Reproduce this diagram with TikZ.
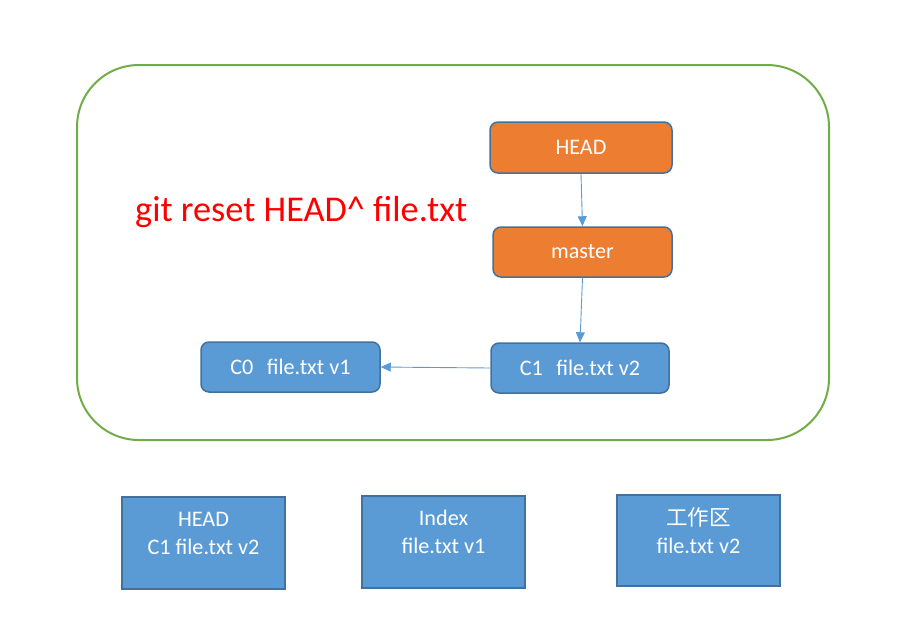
\documentclass[tikz,border=0pt]{standalone}
\usepackage{fontspec}
\setmainfont{Carlito}
\newfontfamily\cjk{Noto Sans CJK SC}
\usetikzlibrary{arrows.meta}
\definecolor{bborder}{HTML}{41719C}
\definecolor{bfill}{HTML}{5B9BD5}
\definecolor{ofill}{HTML}{ED7D31}
\definecolor{gline}{HTML}{70AD47}
\definecolor{aline}{HTML}{5B9BD5}
\begin{document}
\begin{tikzpicture}[x=1pt,y=-1pt,
  smallfont/.style={font=\fontsize{22.2}{28}\selectfont},
  rbox/.style={draw=bborder, line width=1.5pt, rounded corners=8pt, inner sep=0pt, text=white, smallfont},
  bluebox/.style={rbox, fill=bfill},
  orangebox/.style={rbox, fill=ofill},
  sqbox/.style={draw=bborder, line width=1.5pt, fill=bfill, inner sep=0pt, minimum width=163pt},
  boxtext/.style={text=white, smallfont, align=center, inner sep=0pt},
  conn/.style={draw=aline, line width=0.9pt, -{Triangle[length=10pt,width=9pt]}}
]
\useasboundingbox (0,0) rectangle (911,625);
% outer frame
\node[draw=gline, line width=2pt, rounded corners=62pt, minimum width=752pt, minimum height=375pt, inner sep=0pt] (frame) at (453,252.5) {};
% command
\node[anchor=base west, text=red, inner sep=0pt, font=\fontsize{36.3}{42}\selectfont] (cmd) at (135,221.5) {git reset HEAD\textasciicircum{} file.txt};
% pointer boxes
\node[orangebox, minimum width=182pt, minimum height=51pt] (head) at (581,147.5) {HEAD};
\node[orangebox, minimum width=179pt, minimum height=50pt] (master) at (582.5,252) {master};
\node[bluebox, minimum width=178pt, minimum height=50pt] (c1) at (580,368) {C1\hspace{0.6em}file.txt v2};
\node[bluebox, minimum width=179pt, minimum height=50pt] (c0) at (290.5,367) {C0\hspace{0.6em}file.txt v1};
% connectors
\draw[conn] (head.south) -- (master.north);
\draw[conn] (master.south) -- (c1.north);
\draw[conn] (c1.west) -- (c0.east);
% bottom boxes
\node[sqbox, minimum height=92pt] (b1) at (203.5,543) {};
\node[sqbox, minimum height=92pt] (b2) at (443.5,542) {};
\node[sqbox, minimum height=91pt] (b3) at (698.5,540.5) {};
\node[boxtext] (t1) at (203.5,533) {HEAD\\C1 file.txt v2};
\node[boxtext] (t2) at (443.5,531.5) {Index\\file.txt v1};
\node[boxtext] (t3) at (698.5,531) {{\cjk\fontsize{21.5}{28}\selectfont 工作区}\\file.txt v2};
\end{tikzpicture}
\end{document}
